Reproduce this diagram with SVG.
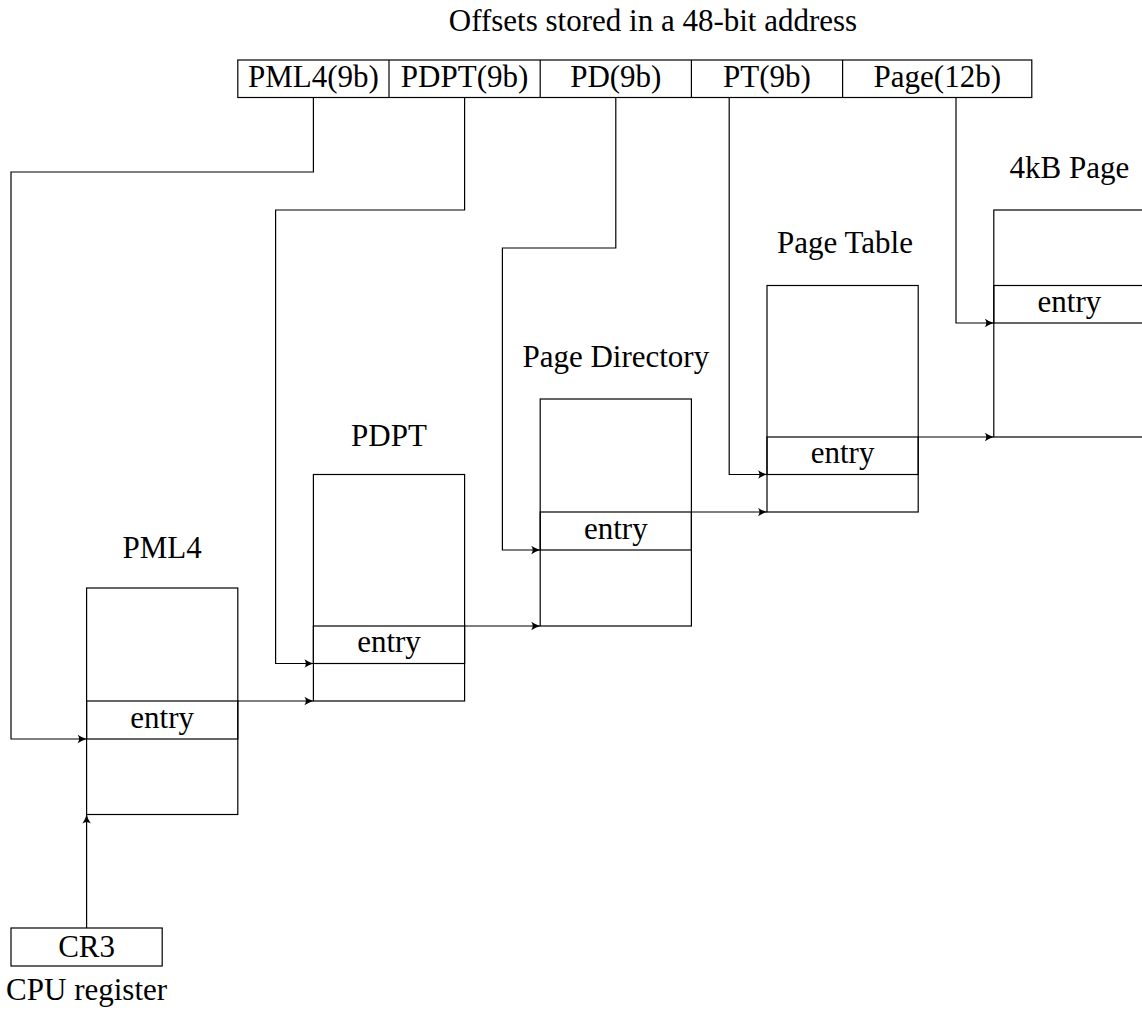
<svg xmlns="http://www.w3.org/2000/svg" width="1142" height="1019" viewBox="0 0 1142 1019">
<style>
text{font-family:"Liberation Serif","Times New Roman",serif;font-size:31px;fill:#000;text-anchor:middle}
.b{fill:none;stroke:#000;stroke-width:1.2}
.c{fill:none;stroke:#000;stroke-width:1.2}
</style>
<defs>
<marker id="ah" markerUnits="userSpaceOnUse" markerWidth="12" markerHeight="10" refX="0" refY="0" viewBox="-10 -5 11 10" orient="auto" overflow="visible">
<path d="M0,0 Q-4.5,-1.2 -9,-4.2 Q-6,0 -9,4.2 Q-4.5,1.2 0,0 Z" fill="#000"/>
</marker>
</defs>
<rect width="1142" height="1019" fill="#fff"/>
<text id="title" x="653" y="31">Offsets stored in a 48-bit address</text>
<g id="address">
<rect class="b" x="237.8" y="60" width="794" height="37.5"/>
<line class="b" x1="389" y1="60" x2="389" y2="97.5"/>
<line class="b" x1="540.2" y1="60" x2="540.2" y2="97.5"/>
<line class="b" x1="691.4" y1="60" x2="691.4" y2="97.5"/>
<line class="b" x1="842.6" y1="60" x2="842.6" y2="97.5"/>
<text x="313.4" y="87">PML4(9b)</text>
<text x="464.6" y="87">PDPT(9b)</text>
<text x="615.8" y="87">PD(9b)</text>
<text x="767" y="87">PT(9b)</text>
<text x="937.3" y="87">Page(12b)</text>
</g>
<g id="pml4">
<text x="162.2" y="558">PML4</text>
<rect class="b" x="86.6" y="588" width="151.2" height="226.5"/>
<rect class="b" x="86.6" y="701" width="151.2" height="38"/>
<text x="162.2" y="728">entry</text>
</g>
<g id="pdpt">
<text x="389" y="446">PDPT</text>
<rect class="b" x="313.4" y="474.5" width="151.2" height="226.5"/>
<rect class="b" x="313.4" y="626" width="151.2" height="37.5"/>
<text x="389" y="652">entry</text>
</g>
<g id="pd">
<text x="615.8" y="367">Page Directory</text>
<rect class="b" x="540.2" y="399" width="151.2" height="227"/>
<rect class="b" x="540.2" y="512" width="151.2" height="38"/>
<text x="615.8" y="539">entry</text>
</g>
<g id="pt">
<text x="845" y="253">Page Table</text>
<rect class="b" x="767" y="285.5" width="151.2" height="226.5"/>
<rect class="b" x="767" y="437" width="151.2" height="37.5"/>
<text x="842.6" y="463">entry</text>
</g>
<g id="page">
<text x="1069.4" y="178">4kB Page</text>
<rect class="b" x="993.8" y="210" width="160" height="227"/>
<rect class="b" x="993.8" y="285.5" width="160" height="37.5"/>
<text x="1069.4" y="312">entry</text>
</g>
<g id="cr3">
<rect class="b" x="11" y="928" width="151.2" height="38"/>
<text x="86.6" y="957">CR3</text>
<text x="86.6" y="1000">CPU register</text>
</g>
<g id="connectors">
<path class="c" d="M313.4,97.5 V172 H11 V739 H86.6" marker-end="url(#ah)"/>
<path class="c" d="M464.6,97.5 V210 H275.6 V663.5 H313.4" marker-end="url(#ah)"/>
<path class="c" d="M615.8,97.5 V248 H502.4 V550 H540.2" marker-end="url(#ah)"/>
<path class="c" d="M729.2,97.5 V474.5 H767" marker-end="url(#ah)"/>
<path class="c" d="M956,97.5 V323 H993.8" marker-end="url(#ah)"/>
<path class="c" d="M237.8,701 H313.4" marker-end="url(#ah)"/>
<path class="c" d="M464.6,626 H540.2" marker-end="url(#ah)"/>
<path class="c" d="M691.4,512 H767" marker-end="url(#ah)"/>
<path class="c" d="M918.2,437 H993.8" marker-end="url(#ah)"/>
<path class="c" d="M86.6,928 V814.5" marker-end="url(#ah)"/>
</g>
</svg>
